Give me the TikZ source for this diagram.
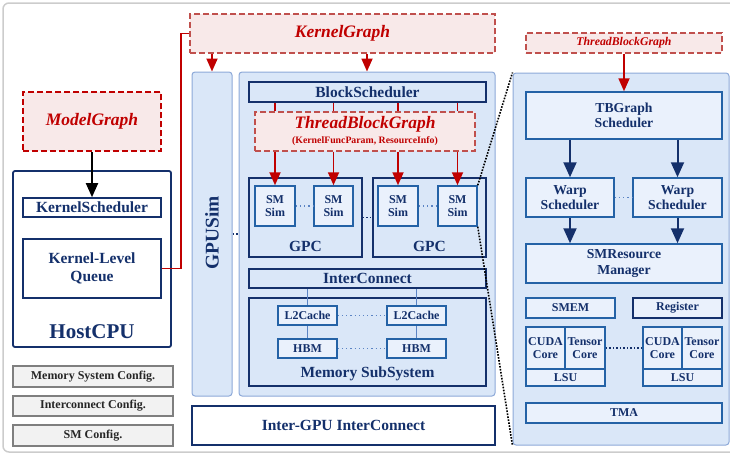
\documentclass[tikz,border=0pt]{standalone}
\usepackage{fontspec}
\setmainfont{Liberation Serif}
\usetikzlibrary{arrows.meta}
\definecolor{navy}{HTML}{14306B}
\definecolor{skyfill}{HTML}{DAE7F8}
\definecolor{skyline}{HTML}{8DA9D8}
\definecolor{smfill}{HTML}{EAF1FC}
\definecolor{smline}{HTML}{2462A6}
\definecolor{linkblue}{HTML}{5B84C4}
\definecolor{kred}{HTML}{C00000}
\definecolor{dashred}{HTML}{C0504D}
\definecolor{pinkfill}{HTML}{F8E9E9}
\definecolor{cfgfill}{HTML}{F2F2F2}
\definecolor{cfgline}{HTML}{7F7F7F}
\definecolor{framegray}{HTML}{CCCCCC}
\tikzstyle{hostbox} = [rectangle, draw=navy, line width=1.6pt, fill=white, text=navy, inner sep=0pt, align=center, font=\bfseries\fontsize{15.5}{18}\selectfont]
\tikzstyle{unitbox} = [rectangle, draw=navy, line width=1.6pt, fill=skyfill, text=navy, inner sep=0pt, align=center, font=\bfseries\fontsize{15.5}{18}\selectfont]
\tikzstyle{simbox} = [rectangle, draw=smline, line width=1.5pt, fill=smfill, text=navy, inner sep=0pt, align=center, font=\bfseries\fontsize{12}{13.3}\selectfont]
\tikzstyle{schedbox} = [simbox, font=\bfseries\fontsize{13.7}{15.5}\selectfont]
\tikzstyle{panel} = [rectangle, rounded corners=3pt, draw=skyline, line width=1pt, fill=skyfill, inner sep=0pt]
\tikzstyle{graphbox} = [rectangle, draw=dashred, dash pattern=on 6pt off 3pt, line width=1.3pt, fill=pinkfill, text=kred, inner sep=0pt, font=\bfseries\itshape\fontsize{17.5}{18}\selectfont]
\tikzstyle{cfgbox} = [rectangle, draw=cfgline, line width=1.3pt, fill=cfgfill, text=black!85, inner sep=0pt, font=\bfseries\fontsize{12}{13}\selectfont]
\tikzstyle{tag} = [text=navy, inner sep=0pt, font=\bfseries\fontsize{15.5}{18}\selectfont]
\tikzstyle{redarrow} = [line width=1.8pt, draw=kred, -{Triangle[length=13pt,width=11pt]}]
\tikzstyle{redline} = [line width=1.8pt, draw=kred]
\tikzstyle{navyarrow} = [line width=2pt, draw=navy, -{Triangle[length=15pt,width=13pt]}]
\tikzstyle{link} = [line width=1.2pt, draw=linkblue]
\tikzstyle{faintdots} = [line width=1.2pt, draw=linkblue, dash pattern=on 1.2pt off 3pt]
\tikzstyle{darkdots} = [line width=1.5pt, draw=navy, dash pattern=on 1.5pt off 2pt]
\tikzstyle{zoomline} = [line width=1.6pt, draw=black, dash pattern=on 1.6pt off 1.4pt]

\begin{document}
\begin{tikzpicture}[x=1pt, y=-1pt]
	\useasboundingbox (0,0) rectangle (730,455);
	\draw [draw=framegray, line width=1.5pt, rounded corners=6pt] (3,3) rectangle (760,452);

	% host side
	\node (modelg) [graphbox, draw=kred, line width=1.6pt, minimum width=138pt, minimum height=59pt] at (92,121.5) {ModelGraph};
	\node (hostcpu) [hostbox, line width=1.8pt, rounded corners=2pt, minimum width=158pt, minimum height=176pt] at (92,259) {};
	\node (ksched) [hostbox, minimum width=138pt, minimum height=19pt] at (92,207.5) {KernelScheduler};
	\node (kqueue) [hostbox, minimum width=138pt, minimum height=59pt] at (92,268.5) {Kernel-Level\\Queue};
	\node (hostlbl) [tag, font=\bfseries\fontsize{21}{22}\selectfont] at (92,332) {HostCPU};
	\node (memcfg) [cfgbox, minimum width=160pt, minimum height=21pt] at (93,376.5) {Memory System Config.};
	\node (iccfg) [cfgbox, minimum width=160pt, minimum height=20pt] at (93,406) {Interconnect Config.};
	\node (smcfg) [cfgbox, minimum width=160pt, minimum height=21pt] at (93,435.5) {SM Config.};

	\draw [line width=1.8pt, -{Triangle[length=14pt,width=12pt]}] (modelg) -- (ksched);

	% GPU side
	\node (kgraph) [graphbox, minimum width=305pt, minimum height=39pt] at (342.5,33.5) {KernelGraph};
	\node (gpusim) [panel, minimum width=40pt, minimum height=324pt] at (212,234) {};
	\node (gpusimlbl) [tag, rotate=90, font=\bfseries\fontsize{19.4}{20}\selectfont] at (212,233) {GPUSim};
	\node (gpu) [panel, minimum width=256pt, minimum height=324pt] at (367,234) {};
	\node (bsched) [unitbox, minimum width=237pt, minimum height=20pt] at (367.5,92) {BlockScheduler};
	\node (tbg) [graphbox, minimum width=220pt, minimum height=39pt] at (365,131.5) {};
	\node (tbgtitle) [graphbox, draw=none, fill=none] at (365,124.5) {ThreadBlockGraph};
	\node (tbgsub) [graphbox, draw=none, fill=none, font=\bfseries\fontsize{9.8}{10}\selectfont] at (365,141.5) {(KernelFuncParam, ResourceInfo)};

	\node (gpc1) [unitbox, minimum width=113pt, minimum height=79pt] at (305.5,217.5) {};
	\node (gpc2) [unitbox, minimum width=113pt, minimum height=79pt] at (429.5,217.5) {};
	\node (gpc1lbl) [tag] at (305.5,246.5) {GPC};
	\node (gpc2lbl) [tag] at (429.5,246.5) {GPC};
	\node (sm1) [simbox, minimum width=40pt, minimum height=40pt] at (275,206) {SM\\Sim};
	\node (sm2) [simbox, minimum width=39pt, minimum height=40pt] at (333.5,206) {SM\\Sim};
	\node (sm3) [simbox, minimum width=40pt, minimum height=40pt] at (398,206) {SM\\Sim};
	\node (sm4) [simbox, minimum width=39pt, minimum height=40pt] at (457.5,206) {SM\\Sim};

	\node (icon) [unitbox, minimum width=237pt, minimum height=19pt] at (367.5,278.5) {InterConnect};
	\node (memsub) [unitbox, minimum width=237pt, minimum height=88pt] at (367.5,342) {};
	\node (memlbl) [tag] at (367.5,373.5) {Memory SubSystem};
	\node (l2a) [simbox, minimum width=59pt, minimum height=19pt] at (307.5,315.5) {L2Cache};
	\node (l2b) [simbox, minimum width=59pt, minimum height=19pt] at (416.5,315.5) {L2Cache};
	\node (hbma) [simbox, minimum width=59pt, minimum height=19pt] at (307.5,348.5) {HBM};
	\node (hbmb) [simbox, minimum width=59pt, minimum height=19pt] at (416.5,348.5) {HBM};
	\node (igpu) [hostbox, minimum width=303pt, minimum height=39pt] at (343.5,425.5) {Inter-GPU InterConnect};

	\coordinate (bend) at (181,268.5);
	\draw [redline] (kgraph.west) -| (bend) -- (kqueue.east);
	\draw [redarrow] (kgraph.south -| gpusim.north) -- (gpusim.north);
	\draw [redarrow] (kgraph.south -| gpu.north) -- (gpu.north);
	\foreach \sm in {sm1,sm2,sm3,sm4} {
		\draw [redline] (bsched.south -| \sm.north) -- (tbg.north -| \sm.north);
		\draw [redarrow] (tbg.south -| \sm.north) -- (\sm.north);
	}
	\draw [darkdots] (gpusim.east) -- (gpu.west);
	\draw [faintdots] (sm1) -- (sm2);
	\draw [faintdots] (sm3) -- (sm4);
	\draw [darkdots] (gpc1.east) -- (gpc2.west);
	\draw [link] (icon.south -| l2a.north) -- (l2a.north);
	\draw [link] (icon.south -| l2b.north) -- (l2b.north);
	\draw [link] (l2a) -- (hbma);
	\draw [link] (l2b) -- (hbmb);
	\draw [faintdots] (l2a) -- (l2b);
	\draw [faintdots] (hbma) -- (hbmb);

	% SM detail
	\node (smd) [panel, minimum width=216pt, minimum height=372pt] at (621,259) {};
	\draw [zoomline] (sm4.north east) -- (smd.north west);
	\draw [zoomline] (sm4.south east) -- (smd.south west);
	\node (tbgs) [graphbox, minimum width=196pt, minimum height=20pt, font=\bfseries\itshape\fontsize{11.8}{12}\selectfont] at (624,43) {ThreadBlockGraph};
	\node (tbsch) [schedbox, minimum width=196pt, minimum height=47pt] at (624,115.5) {TBGraph\\Scheduler};
	\node (warp1) [schedbox, minimum width=88pt, minimum height=39pt] at (570,197.5) {Warp\\Scheduler};
	\node (warp2) [schedbox, minimum width=89pt, minimum height=39pt] at (677.5,197.5) {Warp\\Scheduler};
	\node (smres) [schedbox, minimum width=196pt, minimum height=39pt] at (624,263.5) {SMResource\\Manager};
	\node (smem) [simbox, minimum width=89pt, minimum height=20pt] at (570.5,308) {SMEM};
	\node (reg) [simbox, draw=navy, minimum width=89pt, minimum height=20pt] at (677.5,308) {Register};
	\node (cuda1) [simbox, minimum width=39pt, minimum height=42pt] at (545.5,348) {CUDA\\Core};
	\node (tens1) [simbox, minimum width=40pt, minimum height=42pt] at (585,348) {Tensor\\Core};
	\node (lsu1) [simbox, minimum width=79pt, minimum height=17pt] at (565.5,377.5) {LSU};
	\node (cuda2) [simbox, minimum width=39pt, minimum height=42pt] at (662.5,348) {CUDA\\Core};
	\node (tens2) [simbox, minimum width=40pt, minimum height=42pt] at (702,348) {Tensor\\Core};
	\node (lsu2) [simbox, minimum width=79pt, minimum height=17pt] at (682.5,377.5) {LSU};
	\node (tma) [simbox, minimum width=196pt, minimum height=20pt] at (624,413) {TMA};

	\draw [redarrow] (tbgs) -- (tbsch);
	\draw [navyarrow] (tbsch.south -| warp1.north) -- (warp1.north);
	\draw [navyarrow] (tbsch.south -| warp2.north) -- (warp2.north);
	\draw [navyarrow] (warp1.south) -- (warp1.south |- smres.north);
	\draw [navyarrow] (warp2.south) -- (warp2.south |- smres.north);
	\draw [faintdots] (warp1) -- (warp2);
	\draw [darkdots] (tens1.east) -- (cuda2.west);
\end{tikzpicture}
\end{document}
